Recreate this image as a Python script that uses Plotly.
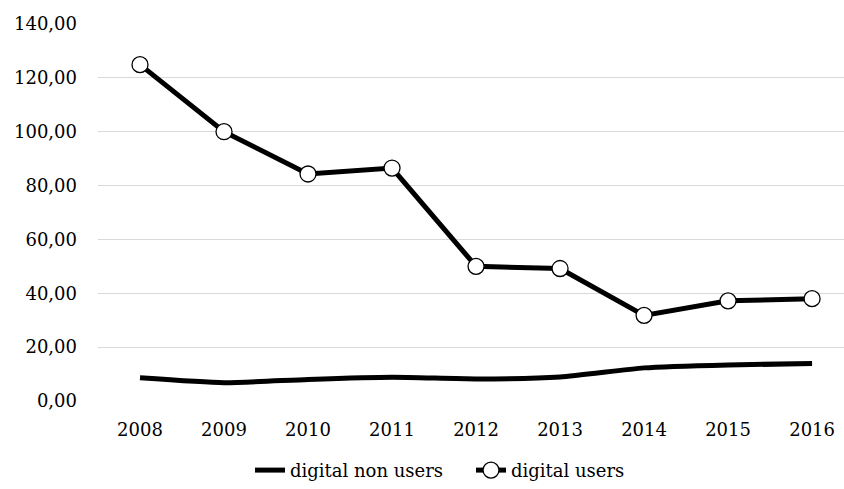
import plotly.graph_objects as go

years = ["2008", "2009", "2010", "2011", "2012", "2013", "2014", "2015", "2016"]
digital_non_users = [8.6, 6.8, 8.0, 8.8, 8.2, 8.9, 12.3, 13.4, 13.9]
digital_users = [124.9, 100.0, 84.3, 86.5, 50.0, 49.2, 31.8, 37.2, 38.0]
y_ticks = [0, 20, 40, 60, 80, 100, 120, 140]

font_family = "DejaVu Serif"

fig = go.Figure()
fig.add_trace(go.Scatter(
    x=years, y=digital_non_users, name="digital non users",
    mode="lines", line=dict(color="black", width=5, shape="spline", smoothing=0.6),
))
fig.add_trace(go.Scatter(
    x=years, y=digital_users, name="digital users",
    mode="lines+markers", line=dict(color="black", width=5),
    marker=dict(size=16, color="white", line=dict(color="black", width=1.3)),
))

fig.update_layout(
    width=844, height=489,
    margin=dict(l=98, r=0, t=24, b=88, autoexpand=False),
    paper_bgcolor="white", plot_bgcolor="white",
    separators=",.",
    font=dict(family=font_family, size=18, color="black"),
    showlegend=True,
    legend=dict(orientation="h", x=(250 - 98) / 746, xanchor="left", y=-0.135, yanchor="top",
                font=dict(family=font_family, size=18), entrywidth=176, entrywidthmode="pixels",
                tracegroupgap=0),
)
fig.update_xaxes(type="category", range=[-0.5, 8.38], showgrid=False, zeroline=False,
                 showline=False, ticks="", ticklabelstandoff=16,
                 tickfont=dict(family=font_family, size=18))
fig.update_yaxes(range=[0, 140], tickvals=y_ticks, tickformat=".2f",
                 showgrid=True, gridcolor="#d9d9d9", gridwidth=1.3,
                 zeroline=False, showline=False, ticks="", ticklabelstandoff=20,
                 tickfont=dict(family=font_family, size=18))

fig.write_html("out.html")
